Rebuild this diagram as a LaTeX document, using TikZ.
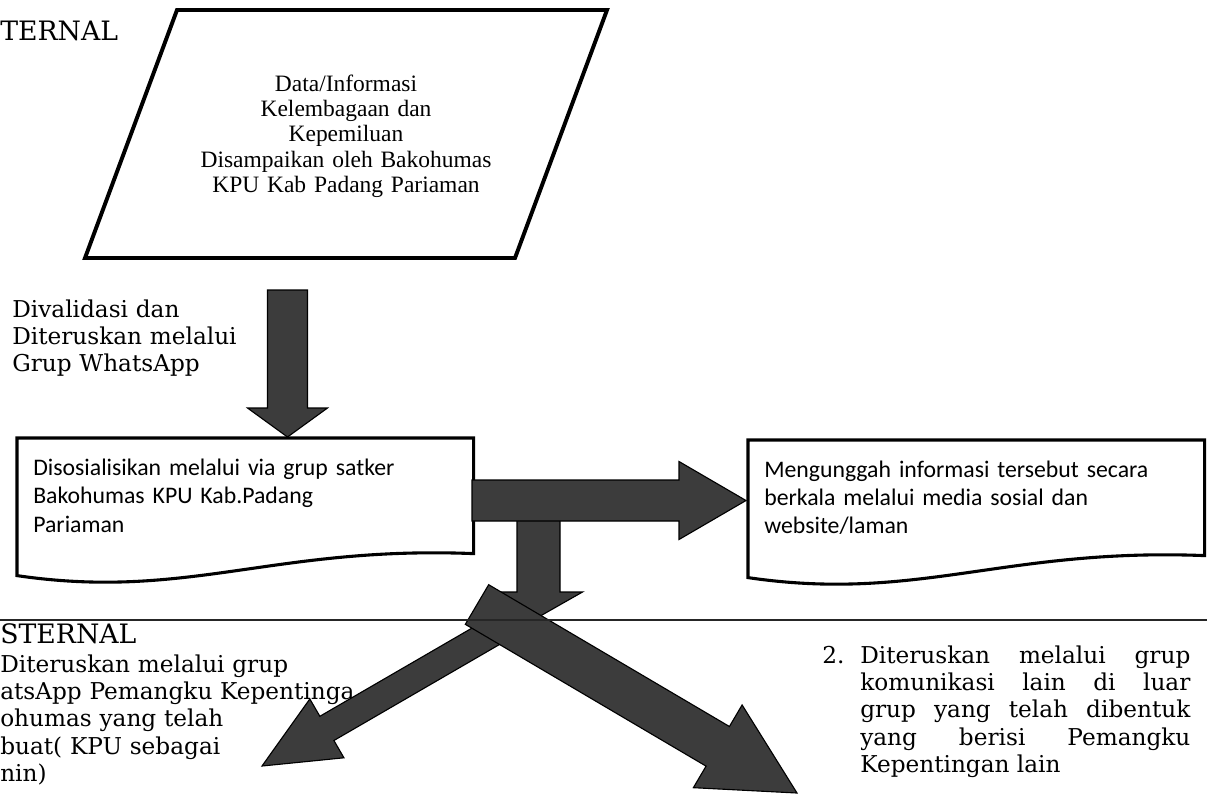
\documentclass[tikz,border=0pt]{standalone}
\usepackage{fontspec}
\setmainfont{Liberation Serif}
\newfontfamily\calibrifont{Carlito}
\newfontfamily\bookfont{DejaVu Serif}
\usetikzlibrary{calc}
\definecolor{arrowgray}{HTML}{3C3C3C}
\def\pxu{0.025cm}

\begin{document}
\begin{tikzpicture}[
  x=0.025cm, y=-0.025cm,
  heading/.style={font=\bookfont\fontsize{19}{22}\selectfont, inner sep=0pt, anchor=base west},
  lbl/.style={font=\bookfont\fontsize{16.5}{19.5}\selectfont, inner sep=0pt, align=left, anchor=base west},
  datatext/.style={font=\fontsize{16.7}{18.07}\selectfont, inner sep=0pt, text width=9cm, align=center, anchor=base},
  paral/.style={draw=black, line width=2.8pt, line join=miter},
  docbox/.style={font=\calibrifont\fontsize{16.9}{20}\selectfont, anchor=north west, align=left,
    minimum width=11.4cm, minimum height=2.875cm, text width=10.6cm, inner xsep=0.4cm, inner ysep=0pt},
  docline/.style={draw=black, line width=2.2pt, line join=miter},
  sepline/.style={draw=black!85, line width=1.4pt},
  blockarr/.style n args={3}{
    draw=black, line width=0.8pt, fill=arrowgray, line join=miter,
    to path={
      ($(\tikztostart)!#1*\pxu!90:(\tikztotarget)$)
      -- ($(\tikztotarget)!#3*\pxu!(\tikztostart)!#1*\pxu!-90:(\tikztostart)$)
      -- ($(\tikztotarget)!#3*\pxu!(\tikztostart)!#2*\pxu!-90:(\tikztostart)$)
      -- (\tikztotarget)
      -- ($(\tikztotarget)!#3*\pxu!(\tikztostart)!#2*\pxu!90:(\tikztostart)$)
      -- ($(\tikztotarget)!#3*\pxu!(\tikztostart)!#1*\pxu!90:(\tikztostart)$)
      -- ($(\tikztostart)!#1*\pxu!-90:(\tikztotarget)$)
      -- cycle}
  }
]
\useasboundingbox (0,0) rectangle (1207,798);

% Internal part
\node[heading] (intern) at (0,40) {TERNAL};

\draw[paral] (177,10) -- (607,10) -- (515,258) -- (85,258) -- cycle;
\node[datatext] (data) at (346,91)
  {Data/Informasi\\Kelembagaan dan\\Kepemiluan\\Disampaikan oleh Bakohumas\\KPU Kab Padang Pariaman};

\node[lbl, text width=7cm] (valid) at (12,317)
  {Divalidasi dan\\Diteruskan melalui\\Grup WhatsApp};

\node[docbox] (sosial) at (17,438)
  {Disosialisikan melalui via grup satker\\Bakohumas KPU Kab.Padang\\Pariaman};
\node[docbox] (unggah) at (748,440)
  {Mengunggah informasi tersebut secara\\berkala melalui media sosial dan\\website/laman};

\draw[docline] (sosial.north west) -- (sosial.north east) -- (sosial.south east)
  .. controls +(-200,-8) and +(170,25) .. ($(sosial.south west)+(0,22)$) -- cycle;
\draw[docline] (unggah.north west) -- (unggah.north east) -- (unggah.south east)
  .. controls +(-200,-8) and +(170,25) .. ($(unggah.south west)+(0,22)$) -- cycle;

% External part
\node[heading] (extern) at (0,643) {STERNAL};
\node[lbl, text width=10cm] (grupwa) at (0,672)
  {Diteruskan melalui grup\\atsApp Pemangku Kepentinga\\ohumas yang telah\\buat( KPU sebagai\\nin)};
\node[lbl] (num) at (822,663) {2.};
\node[lbl, text width=8.25cm, align=justify] (lain) at (860,663)
  {Diteruskan melalui grup\linebreak komunikasi lain di luar\linebreak grup yang telah dibentuk\linebreak yang berisi Pemangku\linebreak Kepentingan lain};

% Block arrows
\coordinate (valid-tail) at (287.5,290);
\coordinate (valid-tip) at (287.5,437);
\coordinate (pub-tail) at (472,500.5);
\coordinate (pub-tip) at (746,500.5);
\coordinate (sat-tail) at (538.5,505);
\coordinate (sat-tip) at (538.5,617);
\coordinate (ext1-tail) at (500,628);
\coordinate (ext1-tip) at (262,766);
\coordinate (ext2-tail) at (477,604.5);
\coordinate (ext2-tip) at (797,793);

\draw[blockarr={20}{40}{29}] (valid-tail) to (valid-tip);
\draw[blockarr={21.5}{44}{25}] (sat-tail) to (sat-tip);
\draw[blockarr={20.5}{39}{67}] (pub-tail) to (pub-tip);
\draw[blockarr={14}{34}{75}] (ext1-tail) to (ext1-tip);
\draw[blockarr={23}{48}{92}] (ext2-tail) to (ext2-tip);

\draw[sepline] (0,620) -- (1207,620);

\end{tikzpicture}
\end{document}
